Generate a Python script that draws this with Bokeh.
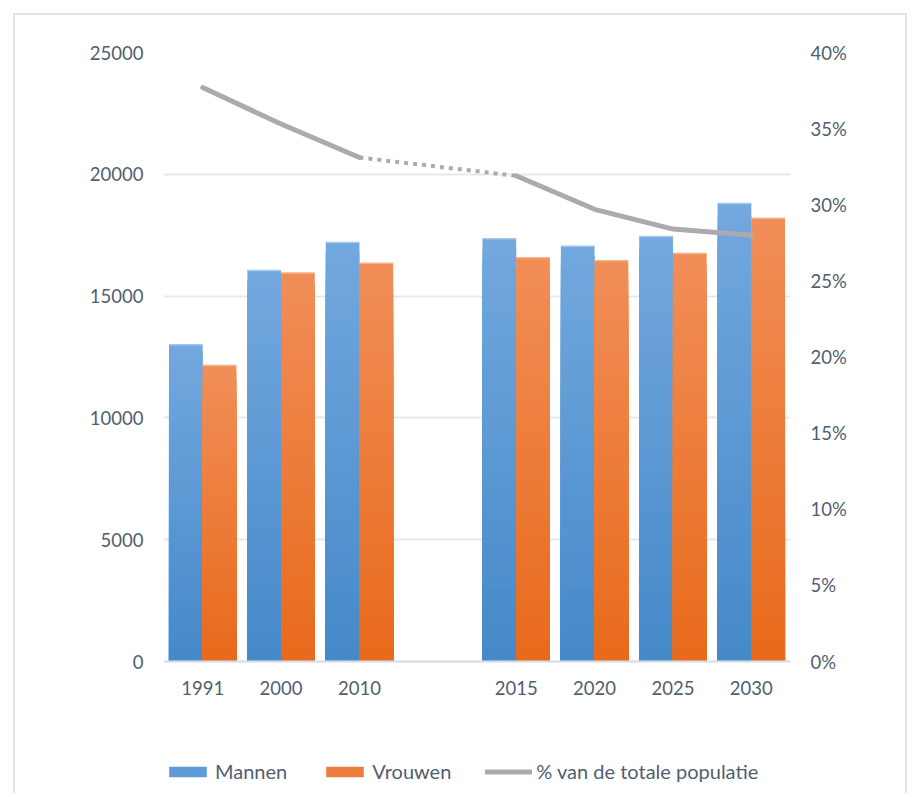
from bokeh.plotting import figure
from bokeh.models import (FactorRange, Range1d, LinearAxis, FixedTicker, PrintfTickFormatter,
                          ColumnDataSource, Legend, LegendItem, BasicTickFormatter, LabelSet, Span)
from bokeh.core.properties import value
from bokeh.transform import dodge
from bokeh.embed import file_html
from bokeh.resources import INLINE

# ---- data ----
years = ["1991", "2000", "2010", " ", "2015", "2020", "2025", "2030"]
mannen = [13000, 16050, 17200, None, 17350, 17050, 17450, 18800]
vrouwen = [12150, 15950, 16350, None, 16575, 16450, 16750, 18200]
pct = [37.7, 35.3, 33.1, None, 31.9, 29.7, 28.4, 28.0]
left_ticks = [0, 5000, 10000, 15000, 20000, 25000]
right_ticks = [0, 5, 10, 15, 20, 25, 30, 35, 40]
Y_MAX, P_MAX = 25000, 40

FONT = "Lato"
TXT = "#525E70"
BLUE_BOT, BLUE_TOP, BLUE_EDGE = (0x45, 0x89, 0xC9), (0x73, 0xA8, 0xDE), "#A3C6EA"
ORNG_BOT, ORNG_TOP, ORNG_EDGE = (0xE8, 0x6A, 0x1B), (0xF1, 0x8E, 0x58), "#F6B18C"
N = 40

# layout (pixels)
H, TOP, PLOT0 = 780, 37, 646   # canvas height, frame top, pixel row of value 0
frac_below = (H - PLOT0) / (PLOT0 - TOP)   # frame extends below 0 to hold labels + legend


def mix(a, b, t):
    return "#%02x%02x%02x" % tuple(int(round(a[i] + (b[i] - a[i]) * t)) for i in range(3))


p = figure(width=894, height=H, x_range=FactorRange(*years),
           y_range=Range1d(-Y_MAX * frac_below, Y_MAX),
           output_backend="svg", toolbar_location=None, x_axis_location=None,
           min_border_left=148, min_border_right=119, min_border_top=TOP, min_border_bottom=0)
p.styles = {"transform": "translate(13px, 13px)",
            "border-left": "2px solid #DFE4EB", "border-top": "2px solid #DFE4EB",
            "border-right": "2px solid #DFE4EB"}
p.outline_line_color = None
p.background_fill_color = "white"
p.border_fill_color = "white"

p.extra_y_ranges = {"pct": Range1d(-P_MAX * frac_below, P_MAX)}

# gradient bars: overlapping layers, tallest (lightest) first
W = 0.43
for vals, off, cb, ct, ce in [(mannen, -W / 2, BLUE_BOT, BLUE_TOP, BLUE_EDGE),
                              (vrouwen, W / 2, ORNG_BOT, ORNG_TOP, ORNG_EDGE)]:
    xs, tops, cols = [], [], []
    for k in range(N - 1, -1, -1):
        for yr, v in zip(years, vals):
            if v is None:
                continue
            xs.append(yr)
            tops.append(v * (k + 1) / N)
            cols.append(mix(cb, ct, (k + 0.5) / N))
    src = ColumnDataSource(dict(x=xs, top=tops, color=cols))
    p.vbar(x=dodge("x", off, range=p.x_range), bottom=0, top="top", width=W,
           fill_color="color", line_color=None, source=src)
    # light top edge
    ex = [yr for yr, v in zip(years, vals) if v is not None]
    ev = [v for v in vals if v is not None]
    esrc = ColumnDataSource(dict(x=ex, v=ev))
    p.vbar(x=dodge("x", off, range=p.x_range), bottom="v", top="v", width=W,
           fill_color=None, line_color=ce, line_width=1.5, source=esrc)

# legend swatch renderers (zero-height bars)
rm = p.vbar(x=[years[0]], bottom=[0], top=[0], width=W,
            fill_color=mix(BLUE_BOT, BLUE_TOP, 0.55), line_color=None)
rv = p.vbar(x=[years[0]], bottom=[0], top=[0], width=W,
            fill_color=mix(ORNG_BOT, ORNG_TOP, 0.55), line_color=None)

# percentage line
GRAY = "#ABABAF"
i_gap = pct.index(None)
rl = p.line(years[:i_gap], pct[:i_gap], y_range_name="pct", line_color=GRAY, line_width=5,
            line_cap="round", line_join="round")
p.line(years[i_gap + 1:], pct[i_gap + 1:], y_range_name="pct", line_color=GRAY, line_width=5,
       line_cap="round", line_join="round")
p.line([years[i_gap - 1], years[i_gap + 1]], [pct[i_gap - 1], pct[i_gap + 1]], y_range_name="pct",
       line_color=GRAY, line_width=4, line_dash="4 5")

# baseline at 0
p.add_layout(Span(location=0, dimension="width", line_color="#D9DEE6", line_width=2))

# category labels under the baseline
lab_years = [y for y in years if y.strip()]
lsrc = ColumnDataSource(dict(x=lab_years, y=[0] * len(lab_years), t=lab_years))
p.add_layout(LabelSet(x="x", y="y", text="t", source=lsrc, y_offset=-26,
                      text_align="center", text_baseline="middle",
                      text_font=value(FONT), text_font_size="18.5px", text_color=TXT))

# axes
p.yaxis.ticker = FixedTicker(ticks=left_ticks)
p.yaxis.formatter = BasicTickFormatter(use_scientific=False)
ra = LinearAxis(y_range_name="pct", ticker=FixedTicker(ticks=right_ticks),
                formatter=PrintfTickFormatter(format="%d%%"))
p.add_layout(ra, "right")

for ax in [p.yaxis[0], ra]:
    ax.axis_line_color = None
    ax.major_tick_line_color = None
    ax.minor_tick_line_color = None
    ax.major_tick_out = 0
    ax.major_label_standoff = 20
    ax.major_label_text_font = FONT
    ax.major_label_text_font_size = "18.5px"
    ax.major_label_text_color = TXT

p.x_range.range_padding = 0
p.x_range.factor_padding = 0

p.xgrid.grid_line_color = None
p.ygrid.ticker = FixedTicker(ticks=left_ticks)
p.ygrid.grid_line_color = "#E5E9EF"
p.ygrid.grid_line_width = 2

legend = Legend(items=[LegendItem(label="Mannen", renderers=[rm]),
                       LegendItem(label="Vrouwen", renderers=[rv]),
                       LegendItem(label="% van de totale populatie", renderers=[rl])],
                orientation="horizontal", location=(1, 12))
legend.glyph_width = 47
legend.glyph_height = 13
legend.label_height = 13
legend.label_standoff = 4
legend.spacing = 34
legend.padding = 0
legend.margin = 0
legend.border_line_color = None
legend.background_fill_alpha = 0
legend.label_text_font = FONT
legend.label_text_font_size = "20px"
legend.label_text_color = TXT
p.add_layout(legend, "center")

open("out.html", "w").write(file_html(p, INLINE))
